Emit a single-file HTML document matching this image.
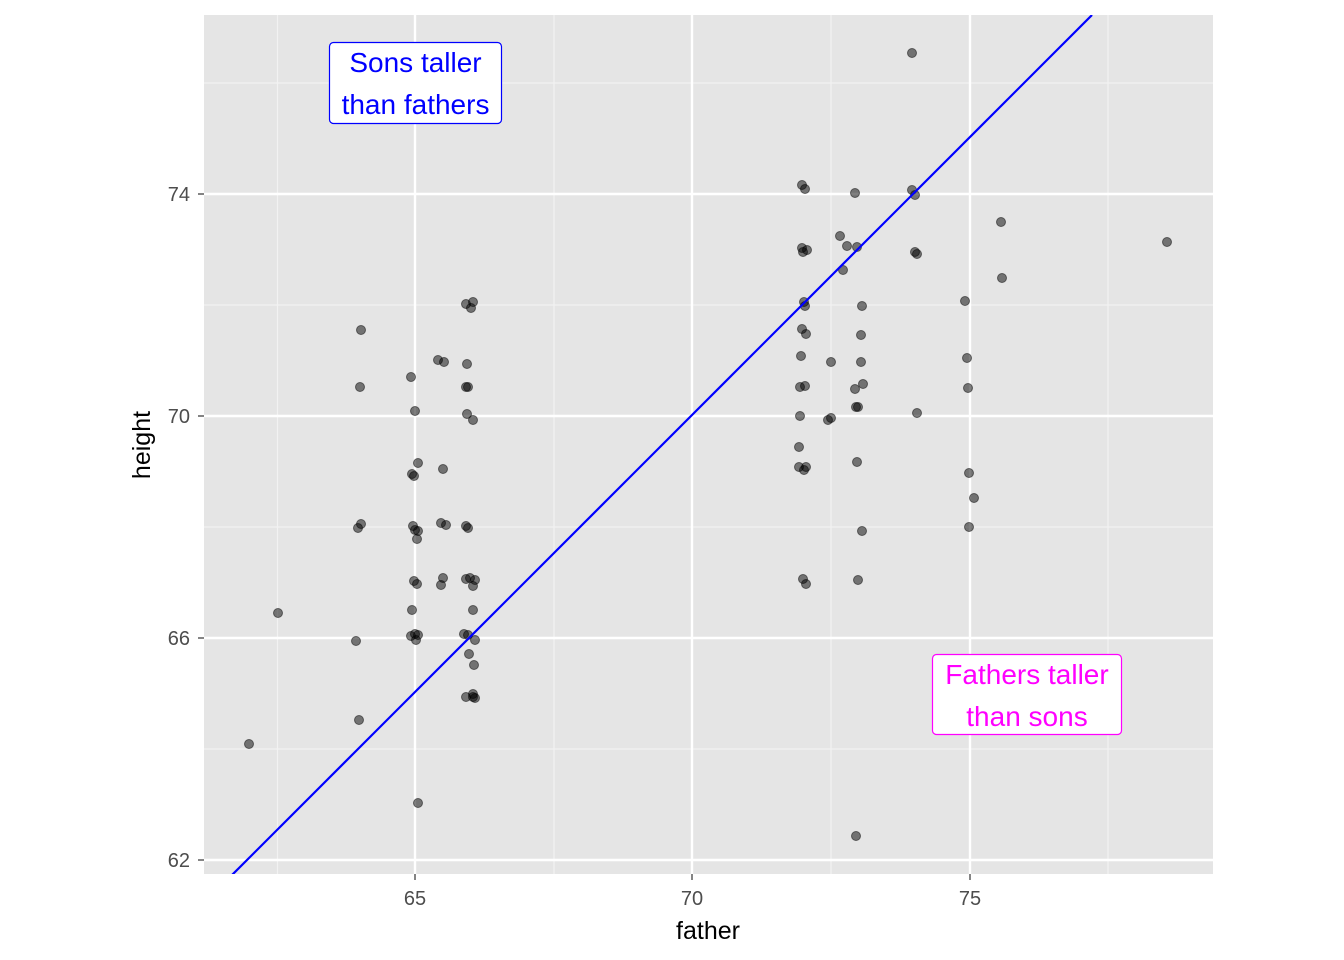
<!DOCTYPE html>
<html><head><meta charset="utf-8"><style>body{margin:0;background:#fff}svg{display:block}</style></head><body>
<svg width="1344" height="960" xmlns="http://www.w3.org/2000/svg" font-family="Liberation Sans, Arial, sans-serif">
<defs><clipPath id="c"><rect x="204" y="15" width="1009" height="859"/></clipPath></defs>
<rect x="204" y="15" width="1009" height="859" fill="#e5e5e5"/>
<g stroke="#f2f2f2" stroke-width="1.2">
<line x1="277.5" y1="15" x2="277.5" y2="874"/><line x1="554" y1="15" x2="554" y2="874"/><line x1="831" y1="15" x2="831" y2="874"/><line x1="1108" y1="15" x2="1108" y2="874"/>
<line x1="204" y1="83" x2="1213" y2="83"/><line x1="204" y1="305" x2="1213" y2="305"/><line x1="204" y1="527" x2="1213" y2="527"/><line x1="204" y1="749" x2="1213" y2="749"/>
</g>
<g stroke="#fff" stroke-width="2.4">
<line x1="415" y1="15" x2="415" y2="874"/><line x1="692" y1="15" x2="692" y2="874"/><line x1="970" y1="15" x2="970" y2="874"/>
<line x1="204" y1="194" x2="1213" y2="194"/><line x1="204" y1="416" x2="1213" y2="416"/><line x1="204" y1="638" x2="1213" y2="638"/><line x1="204" y1="860" x2="1213" y2="860"/>
</g>
<g fill="#000" fill-opacity="0.5" stroke="#000" stroke-opacity="0.5" stroke-width="1">
<circle cx="912" cy="53" r="4.5"/><circle cx="802" cy="185" r="4.5"/><circle cx="805" cy="189" r="4.5"/><circle cx="855" cy="193" r="4.5"/><circle cx="912" cy="190" r="4.5"/><circle cx="915" cy="195" r="4.5"/><circle cx="1001" cy="222" r="4.5"/><circle cx="840" cy="236" r="4.5"/><circle cx="802" cy="248" r="4.5"/><circle cx="807" cy="250" r="4.5"/><circle cx="803" cy="252" r="4.5"/><circle cx="847" cy="246" r="4.5"/><circle cx="857" cy="247" r="4.5"/><circle cx="915" cy="252" r="4.5"/><circle cx="917" cy="254" r="4.5"/><circle cx="843" cy="270" r="4.5"/><circle cx="1002" cy="278" r="4.5"/><circle cx="1167" cy="242" r="4.5"/><circle cx="466" cy="304" r="4.5"/><circle cx="473" cy="302" r="4.5"/><circle cx="471" cy="308" r="4.5"/><circle cx="804" cy="302" r="4.5"/><circle cx="805" cy="306" r="4.5"/><circle cx="862" cy="306" r="4.5"/><circle cx="965" cy="301" r="4.5"/><circle cx="361" cy="330" r="4.5"/><circle cx="802" cy="329" r="4.5"/><circle cx="806" cy="334" r="4.5"/><circle cx="861" cy="335" r="4.5"/><circle cx="438" cy="360" r="4.5"/><circle cx="444" cy="362" r="4.5"/><circle cx="467" cy="364" r="4.5"/><circle cx="801" cy="356" r="4.5"/><circle cx="831" cy="362" r="4.5"/><circle cx="861" cy="362" r="4.5"/><circle cx="967" cy="358" r="4.5"/><circle cx="411" cy="377" r="4.5"/><circle cx="360" cy="387" r="4.5"/><circle cx="466" cy="387" r="4.5"/><circle cx="468" cy="387" r="4.5"/><circle cx="800" cy="387" r="4.5"/><circle cx="805" cy="386" r="4.5"/><circle cx="863" cy="384" r="4.5"/><circle cx="855" cy="389" r="4.5"/><circle cx="968" cy="388" r="4.5"/><circle cx="415" cy="411" r="4.5"/><circle cx="467" cy="414" r="4.5"/><circle cx="473" cy="420" r="4.5"/><circle cx="800" cy="416" r="4.5"/><circle cx="828" cy="420" r="4.5"/><circle cx="831" cy="418" r="4.5"/><circle cx="856" cy="407" r="4.5"/><circle cx="858" cy="407" r="4.5"/><circle cx="917" cy="413" r="4.5"/><circle cx="799" cy="447" r="4.5"/><circle cx="418" cy="463" r="4.5"/><circle cx="443" cy="469" r="4.5"/><circle cx="412" cy="474" r="4.5"/><circle cx="414" cy="476" r="4.5"/><circle cx="799" cy="467" r="4.5"/><circle cx="806" cy="467" r="4.5"/><circle cx="804" cy="470" r="4.5"/><circle cx="857" cy="462" r="4.5"/><circle cx="969" cy="473" r="4.5"/><circle cx="974" cy="498" r="4.5"/><circle cx="361" cy="524" r="4.5"/><circle cx="358" cy="528" r="4.5"/><circle cx="413" cy="526" r="4.5"/><circle cx="415" cy="530" r="4.5"/><circle cx="418" cy="531" r="4.5"/><circle cx="417" cy="539" r="4.5"/><circle cx="441" cy="523" r="4.5"/><circle cx="446" cy="525" r="4.5"/><circle cx="466" cy="526" r="4.5"/><circle cx="468" cy="528" r="4.5"/><circle cx="969" cy="527" r="4.5"/><circle cx="862" cy="531" r="4.5"/><circle cx="414" cy="581" r="4.5"/><circle cx="417" cy="584" r="4.5"/><circle cx="443" cy="578" r="4.5"/><circle cx="441" cy="585" r="4.5"/><circle cx="466" cy="579" r="4.5"/><circle cx="470" cy="578" r="4.5"/><circle cx="475" cy="580" r="4.5"/><circle cx="473" cy="586" r="4.5"/><circle cx="803" cy="579" r="4.5"/><circle cx="806" cy="584" r="4.5"/><circle cx="858" cy="580" r="4.5"/><circle cx="412" cy="610" r="4.5"/><circle cx="473" cy="610" r="4.5"/><circle cx="278" cy="613" r="4.5"/><circle cx="356" cy="641" r="4.5"/><circle cx="411" cy="636" r="4.5"/><circle cx="415" cy="634" r="4.5"/><circle cx="416" cy="640" r="4.5"/><circle cx="418" cy="635" r="4.5"/><circle cx="464" cy="634" r="4.5"/><circle cx="468" cy="635" r="4.5"/><circle cx="475" cy="640" r="4.5"/><circle cx="469" cy="654" r="4.5"/><circle cx="474" cy="665" r="4.5"/><circle cx="466" cy="697" r="4.5"/><circle cx="473" cy="694" r="4.5"/><circle cx="475" cy="698" r="4.5"/><circle cx="473" cy="697" r="4.5"/><circle cx="359" cy="720" r="4.5"/><circle cx="249" cy="744" r="4.5"/><circle cx="418" cy="803" r="4.5"/><circle cx="856" cy="836" r="4.5"/>
</g>
<line x1="232" y1="875" x2="1092" y2="15" stroke="#0000ff" stroke-width="2.2" clip-path="url(#c)"/>
<rect x="329.5" y="42.5" width="172" height="81" rx="4" fill="#fff" stroke="#0000ff" stroke-width="1.2"/>
<text x="415.5" y="72" font-size="28" fill="#0000ff" text-anchor="middle">Sons taller</text>
<text x="415.5" y="114" font-size="28" fill="#0000ff" text-anchor="middle">than fathers</text>
<rect x="932.5" y="654.5" width="189" height="80" rx="4" fill="#fff" stroke="#ff00ff" stroke-width="1.2"/>
<text x="1027" y="684" font-size="28" fill="#ff00ff" text-anchor="middle">Fathers taller</text>
<text x="1027" y="726" font-size="28" fill="#ff00ff" text-anchor="middle">than sons</text>
<g stroke="#333" stroke-width="1.2">
<line x1="415" y1="874" x2="415" y2="880"/><line x1="692" y1="874" x2="692" y2="880"/><line x1="970" y1="874" x2="970" y2="880"/>
<line x1="198" y1="194" x2="204" y2="194"/><line x1="198" y1="416" x2="204" y2="416"/><line x1="198" y1="638" x2="204" y2="638"/><line x1="198" y1="860" x2="204" y2="860"/>
</g>
<g font-size="20" fill="#4d4d4d">
<text x="415" y="905" text-anchor="middle">65</text><text x="692" y="905" text-anchor="middle">70</text><text x="970" y="905" text-anchor="middle">75</text>
<text x="190" y="201" text-anchor="end">74</text><text x="190" y="423" text-anchor="end">70</text><text x="190" y="645" text-anchor="end">66</text><text x="190" y="867" text-anchor="end">62</text>
</g>
<text x="708" y="939" font-size="25" text-anchor="middle">father</text>
<text transform="translate(150,445) rotate(-90)" font-size="25" text-anchor="middle">height</text>
</svg>
</body></html>
